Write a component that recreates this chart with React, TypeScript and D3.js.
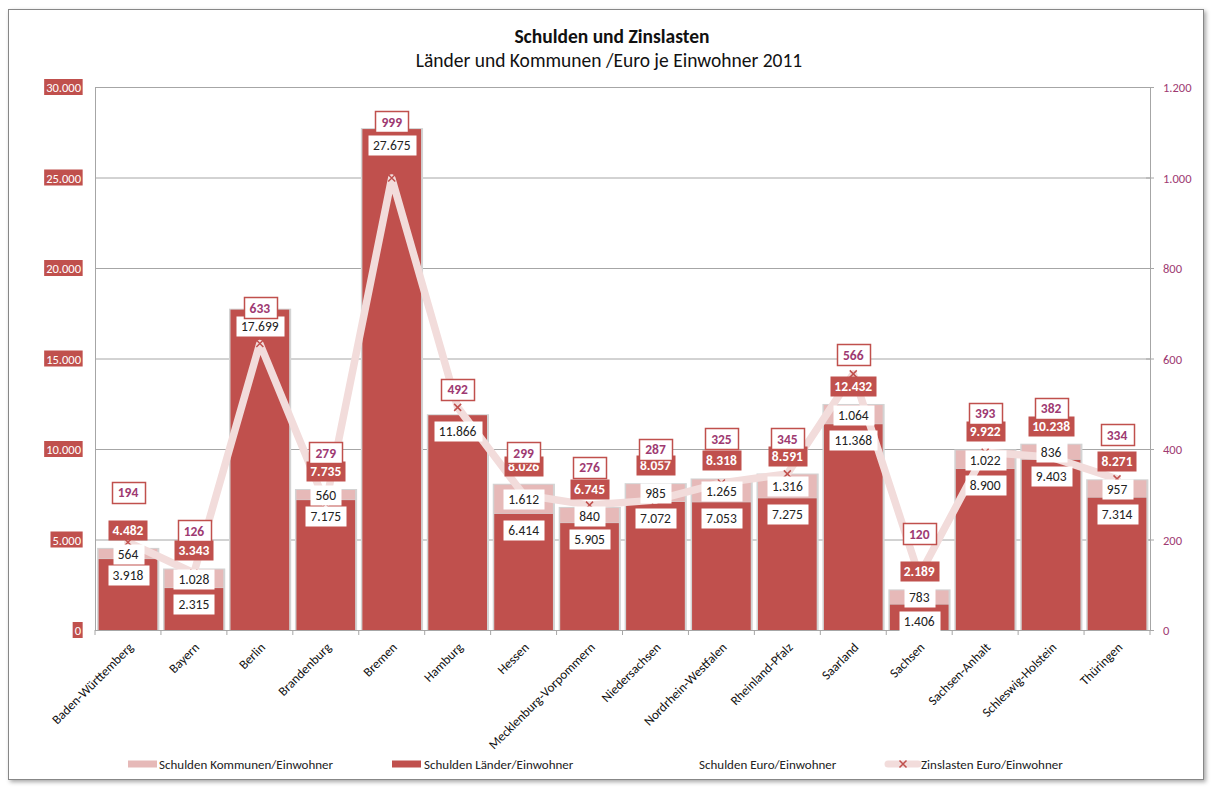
import React, { useEffect, useRef } from 'react';
import * as d3 from 'd3';

const categories = [
  'Baden-Württemberg', 'Bayern', 'Berlin', 'Brandenburg', 'Bremen', 'Hamburg', 'Hessen',
  'Mecklenburg-Vorpommern', 'Niedersachsen', 'Nordrhein-Westfalen', 'Rheinland-Pfalz',
  'Saarland', 'Sachsen', 'Sachsen-Anhalt', 'Schleswig-Holstein', 'Thüringen',
];
const laender = [3918, 2315, 17699, 7175, 27675, 11866, 6414, 5905, 7072, 7053, 7275, 11368, 1406, 8900, 9403, 7314];
const kommunen: (number | null)[] = [564, 1028, null, 560, null, null, 1612, 840, 985, 1265, 1316, 1064, 783, 1022, 836, 957];
const gesamt: (number | null)[] = [4482, 3343, null, 7735, null, null, 8026, 6745, 8057, 8318, 8591, 12432, 2189, 9922, 10238, 8271];
const zins = [194, 126, 633, 279, 999, 492, 299, 276, 287, 325, 345, 566, 120, 393, 382, 334];
const leftTicks = [0, 5000, 10000, 15000, 20000, 25000, 30000];
const rightTicks = [0, 200, 400, 600, 800, 1000, 1200];
const legendItems = ['Schulden Kommunen/Einwohner', 'Schulden Länder/Einwohner', 'Schulden Euro/Einwohner', 'Zinslasten Euro/Einwohner'];
const title = 'Schulden und Zinslasten';
const subtitle = 'Länder und Kommunen /Euro je Einwohner 2011';

// layout: manual placement of the Zinslasten labels (px above the point)
const zinsLabelDy = [-50, -42, -36, -51, -56, -18, -42, -38, -51, -44, -35, -19, -42, -39, -49, -44];

const W = 1212;
const H = 787;
const FONT = "Carlito, Lato, 'Open Sans', sans-serif";
const RED = '#C0504D';
const PINK = '#E6B9B8';
const PALE = '#F2DCDB';
const PURPLE = '#9E3A72';

export default function App() {
  const ref = useRef<SVGSVGElement>(null);
  useEffect(() => {
    const svg = d3.select(ref.current);
    svg.selectAll('*').remove();
    const fmt = d3.formatLocale({ decimal: ',', thousands: '.', grouping: [3], currency: ['', ''] }).format(',d');

    const x = d3.scaleBand<string>().domain(categories).range([95, 1150]).paddingInner(0.11).paddingOuter(0.055);
    const y = d3.scaleLinear().domain([0, 30000]).range([630, 87]);
    const y2 = d3.scaleLinear().domain([0, 1200]).range([630, 87]);
    const bw = x.bandwidth();
    const cx = (c: string) => (x(c) as number) + bw / 2;

    const defs = svg.append('defs');
    const f = defs.append('filter').attr('id', 'sh').attr('x', '-2%').attr('y', '-2%').attr('width', '104%').attr('height', '104%');
    f.append('feDropShadow').attr('dx', 2).attr('dy', 2).attr('stdDeviation', 2).attr('flood-color', '#000').attr('flood-opacity', 0.35);

    svg.append('rect').attr('x', 8.5).attr('y', 9.5).attr('width', 1195).attr('height', 770)
      .attr('fill', '#fff').attr('stroke', '#878787').attr('filter', 'url(#sh)');

    // title
    svg.append('text').attr('x', 612).attr('y', 36).attr('text-anchor', 'middle').attr('dominant-baseline', 'central')
      .attr('font-size', 19.5).attr('font-weight', 'bold').attr('fill', '#111').text(title);
    svg.append('text').attr('x', 609).attr('y', 60).attr('text-anchor', 'middle').attr('dominant-baseline', 'central')
      .attr('font-size', 19.5).attr('fill', '#111').text(subtitle);

    // gridlines
    svg.append('g').selectAll('line').data(leftTicks.filter(t => t > 0)).join('line')
      .attr('x1', 95).attr('x2', 1150).attr('y1', d => y(d) + 0.5).attr('y2', d => y(d) + 0.5)
      .attr('stroke', '#A6A6A6').attr('stroke-width', 1);

    // axes lines
    svg.append('line').attr('x1', 95.5).attr('x2', 95.5).attr('y1', 87).attr('y2', 630).attr('stroke', '#A6A6A6');
    svg.append('line').attr('x1', 1150.5).attr('x2', 1150.5).attr('y1', 87).attr('y2', 631).attr('stroke', '#A6A6A6');
    svg.append('line').attr('x1', 95).attr('x2', 1150).attr('y1', 630.5).attr('y2', 630.5).attr('stroke', '#A6A6A6');
    svg.append('g').selectAll('line').data(rightTicks).join('line')
      .attr('x1', 1146).attr('x2', 1154).attr('y1', d => y2(d) + 0.5).attr('y2', d => y2(d) + 0.5).attr('stroke', '#A6A6A6');
    const step = x.step();
    svg.append('g').selectAll('line').data(d3.range(categories.length + 1)).join('line')
      .attr('x1', i => 95 + i * step).attr('x2', i => 95 + i * step).attr('y1', 630).attr('y2', 635).attr('stroke', '#A6A6A6');

    // left tick labels (white on red)
    const lt = svg.append('g');
    leftTicks.forEach(t => {
      const g = lt.append('g');
      const tx = g.append('text').attr('x', 81).attr('y', y(t) + 0.5).attr('text-anchor', 'end').attr('dominant-baseline', 'central')
        .attr('font-size', 12.5).attr('fill', '#fff').text(fmt(t));
      const bb = (tx.node() as SVGTextElement).getBBox();
      g.insert('rect', 'text').attr('x', bb.x - 2).attr('y', y(t) - 8).attr('width', bb.width + 3).attr('height', 16).attr('fill', RED);
    });
    // right tick labels
    svg.append('g').selectAll('text').data(rightTicks).join('text')
      .attr('x', 1163).attr('y', d => y2(d) + 0.5).attr('dominant-baseline', 'central').attr('font-size', 12.5)
      .attr('fill', PURPLE).text(d => fmt(d));

    // bars
    const bars = svg.append('g');
    categories.forEach((c, i) => {
      const top = y(gesamt[i] ?? laender[i]);
      bars.append('rect').attr('x', (x(c) as number) - 1.5).attr('y', top - 1).attr('width', bw + 3.5).attr('height', 630 - top + 1)
        .attr('fill', '#D3D3D3');
      bars.append('rect').attr('x', x(c) as number).attr('y', y(laender[i])).attr('width', bw).attr('height', 630 - y(laender[i])).attr('fill', RED);
      const k = kommunen[i];
      if (k != null) {
        bars.append('rect').attr('x', x(c) as number).attr('y', y(laender[i] + k)).attr('width', bw)
          .attr('height', y(laender[i]) - y(laender[i] + k) - 0.5).attr('fill', PINK);
      }
    });

    // Zinslasten line
    const line = d3.line<number>().x((_, i) => cx(categories[i])).y(d => y2(d));
    svg.append('path').attr('d', line(zins) as string).attr('fill', 'none').attr('stroke', PALE)
      .attr('stroke-width', 7.5).attr('stroke-linejoin', 'round').attr('stroke-linecap', 'round');
    const mk = svg.append('g').attr('stroke', RED).attr('stroke-width', 1.5);
    zins.forEach((v, i) => {
      const px = cx(categories[i]);
      const py = y2(v);
      mk.append('path').attr('d', `M${px - 3.5},${py - 3.5}L${px + 3.5},${py + 3.5}M${px - 3.5},${py + 3.5}L${px + 3.5},${py - 3.5}`);
    });

    // labels
    const lab = svg.append('g');
    const boxLabel = (px: number, py: number, text: string, o: { fill: string; stroke?: string; color: string; bold?: boolean; h?: number; pad?: number }) => {
      const g = lab.append('g');
      const t = g.append('text').attr('x', px).attr('y', py + 0.5).attr('text-anchor', 'middle').attr('dominant-baseline', 'central')
        .attr('font-size', 13.5).attr('font-weight', o.bold ? 'bold' : 'normal').attr('fill', o.color).text(text);
      const bb = (t.node() as SVGTextElement).getBBox();
      const h = o.h ?? 20;
      const pad = o.pad ?? 5;
      g.insert('rect', 'text').attr('x', Math.round(px - bb.width / 2 - pad) + 0.5).attr('y', Math.round(py - h / 2) + 0.5)
        .attr('width', Math.round(bb.width + 2 * pad)).attr('height', h)
        .attr('fill', o.fill).attr('stroke', o.stroke ?? 'none').attr('stroke-width', o.stroke ? 1.5 : 0);
    };
    categories.forEach((c, i) => {
      const px = cx(c);
      boxLabel(px, y(laender[i]) + 16, fmt(laender[i]), { fill: '#fff', color: '#222' });
      const k = kommunen[i];
      if (k != null) boxLabel(px, (y(laender[i]) + y(laender[i] + k)) / 2, fmt(k), { fill: '#fff', color: '#222' });
    });
    categories.forEach((c, i) => {
      const g = gesamt[i];
      if (g != null) boxLabel(cx(c), y(g) - 19, fmt(g), { fill: RED, color: '#fff', bold: true, pad: 4 });
    });
    categories.forEach((c, i) => {
      boxLabel(cx(c), y2(zins[i]) + zinsLabelDy[i], fmt(zins[i]), { fill: '#fff', stroke: RED, color: PURPLE, bold: true, h: 21, pad: 6 });
    });

    // x labels
    svg.append('g').selectAll('text').data(categories).join('text')
      .attr('transform', c => `translate(${cx(c) + 3},${645}) rotate(-45)`)
      .attr('text-anchor', 'end').attr('dominant-baseline', 'central').attr('font-size', 13).attr('fill', '#111')
      .text(c => c);

    // legend
    const lg = svg.append('g').attr('font-size', 13).attr('fill', '#222');
    const ly = 764;
    lg.append('rect').attr('x', 128).attr('y', ly - 3.5).attr('width', 29).attr('height', 7).attr('fill', PINK);
    lg.append('text').attr('x', 159).attr('y', ly).attr('dominant-baseline', 'central').text(legendItems[0]);
    lg.append('rect').attr('x', 392).attr('y', ly - 3.5).attr('width', 29).attr('height', 7).attr('fill', RED);
    lg.append('text').attr('x', 424).attr('y', ly).attr('dominant-baseline', 'central').text(legendItems[1]);
    lg.append('text').attr('x', 699).attr('y', ly).attr('dominant-baseline', 'central').text(legendItems[2]);
    lg.append('line').attr('x1', 888).attr('x2', 918).attr('y1', ly).attr('y2', ly).attr('stroke', PALE).attr('stroke-width', 7).attr('stroke-linecap', 'round');
    lg.append('path').attr('d', `M${899.5},${ly - 3.5}L${906.5},${ly + 3.5}M${899.5},${ly + 3.5}L${906.5},${ly - 3.5}`)
      .attr('stroke', RED).attr('stroke-width', 1.5);
    lg.append('text').attr('x', 921).attr('y', ly).attr('dominant-baseline', 'central').text(legendItems[3]);
  }, []);
  return <svg ref={ref} width={W} height={H} style={{ position: 'absolute', left: 0, top: 0, fontFamily: FONT }} />;
}
